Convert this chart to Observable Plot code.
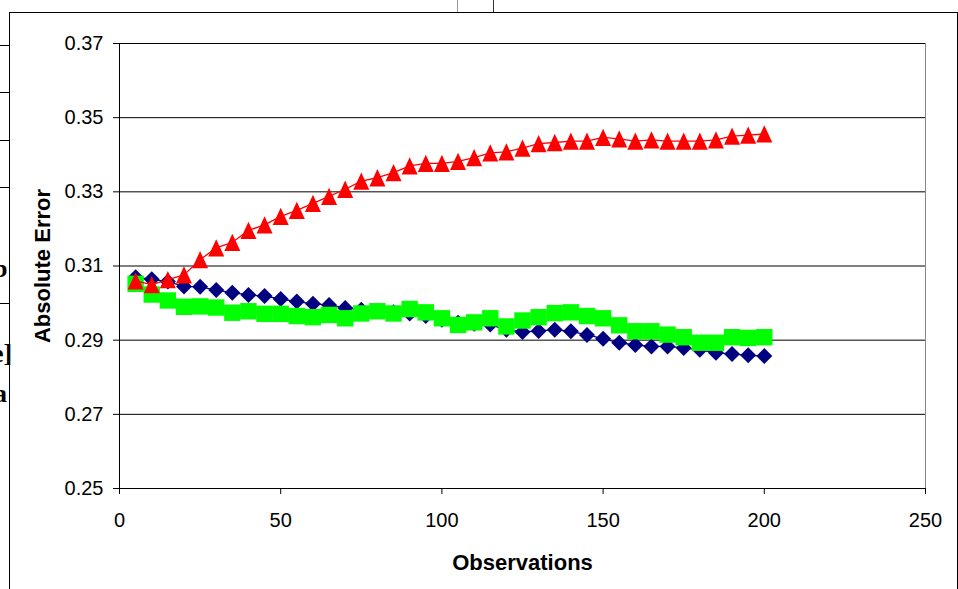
<!DOCTYPE html>
<html>
<head>
<meta charset="utf-8">
<script src="https://cdn.jsdelivr.net/npm/d3@7"></script>
<script src="https://cdn.jsdelivr.net/npm/@observablehq/plot@0.6"></script>
<style>
  html, body { margin: 0; padding: 0; background: #fff; }
  #wrap { position: relative; width: 958px; height: 589px; overflow: hidden; background: #fff; }
  #chart { position: absolute; left: 0; top: 0; }
  .ln { position: absolute; background: #000; }
  .frag { position: absolute; font-family: "Liberation Serif", "DejaVu Serif", serif; font-weight: bold; font-size: 26px; line-height: 1; color: #000; }
</style>
</head>
<body>
<div id="wrap">
  <!-- surrounding page frame and table rules -->
  <div style="position:absolute;left:9px;top:12px;width:947px;height:700px;border:1px solid #000;"></div>
  <div class="ln" style="left:0;top:45px;width:9px;height:1px"></div>
  <div class="ln" style="left:0;top:92px;width:9px;height:1px"></div>
  <div class="ln" style="left:0;top:140px;width:9px;height:1px"></div>
  <div class="ln" style="left:0;top:187px;width:9px;height:1px"></div>
  <div class="ln" style="left:0;top:303px;width:9px;height:1px"></div>
  <div class="ln" style="left:457px;top:0;width:1px;height:12px;background:#999"></div>
  <div class="ln" style="left:493px;top:0;width:1px;height:12px;background:#333"></div>
  <span class="frag" style="left:-7px;top:256px">b</span>
  <span class="frag" style="left:-8px;top:341px">e]</span>
  <span class="frag" style="left:-6px;top:381px">a</span>
  <div id="chart"></div>
</div>
<script>
// Observation counts on the x axis
const observations = [5, 10, 15, 20, 25, 30, 35, 40, 45, 50,
  55, 60, 65, 70, 75, 80, 85, 90, 95, 100,
  105, 110, 115, 120, 125, 130, 135, 140, 145, 150,
  155, 160, 165, 170, 175, 180, 185, 190, 195, 200];

// Absolute error, navy diamonds
const errorDiamond = [0.3070, 0.3064, 0.3058, 0.3045, 0.3044, 0.3035, 0.3028, 0.3022, 0.3019, 0.3011,
  0.3004, 0.2998, 0.2995, 0.2987, 0.2982, 0.2978, 0.2975, 0.2972, 0.2965, 0.2955,
  0.2947, 0.2944, 0.2942, 0.2928, 0.2922, 0.2925, 0.2928, 0.2924, 0.2914, 0.2904,
  0.2893, 0.2887, 0.2883, 0.2883, 0.2879, 0.2874, 0.2866, 0.2863, 0.2859, 0.2857];

// Absolute error, green squares
const errorSquare = [0.3052, 0.3023, 0.3007, 0.2990, 0.2991, 0.2988, 0.2974, 0.2978, 0.2971, 0.2971,
  0.2965, 0.2962, 0.2968, 0.2959, 0.2972, 0.2978, 0.2972, 0.2984, 0.2975, 0.2959,
  0.2941, 0.2948, 0.2959, 0.2937, 0.2953, 0.2962, 0.2973, 0.2975, 0.2965, 0.2959,
  0.2940, 0.2924, 0.2924, 0.2915, 0.2908, 0.2893, 0.2893, 0.2908, 0.2906, 0.2908];

// Absolute error, red triangles
const errorTriangle = [0.3060, 0.3050, 0.3063, 0.3076, 0.3117, 0.3149, 0.3164, 0.3196, 0.3211, 0.3234,
  0.3250, 0.3269, 0.3288, 0.3307, 0.3329, 0.3338, 0.3352, 0.3370, 0.3377, 0.3377,
  0.3382, 0.3392, 0.3405, 0.3408, 0.3418, 0.3430, 0.3433, 0.3437, 0.3437, 0.3447,
  0.3443, 0.3437, 0.3440, 0.3437, 0.3437, 0.3437, 0.3440, 0.3450, 0.3453, 0.3456];

const xTickValues = [0, 50, 100, 150, 200, 250];
const yTickValues = [0.25, 0.27, 0.29, 0.31, 0.33, 0.35, 0.37];

const rows = (ys) => observations.map((x, i) => ({x, y: ys[i]}));

// Marker shapes centred on their bounding box
const diamondMarker = {draw(ctx, size) {
  const r = Math.sqrt(size / Math.PI);
  ctx.moveTo(0, -r); ctx.lineTo(r, 0); ctx.lineTo(0, r); ctx.lineTo(-r, 0); ctx.closePath();
}};
const squareMarker = {draw(ctx, size) {
  const r = Math.sqrt(size / Math.PI);
  ctx.rect(-r, -r, 2 * r, 2 * r);
}};
const triangleMarker = {draw(ctx, size) {
  const r = Math.sqrt(size / Math.PI);
  const h = r * 1.08;
  ctx.moveTo(0, -h); ctx.lineTo(r, h); ctx.lineTo(-r, h); ctx.closePath();
}};

const series = [
  {data: rows(errorDiamond), color: "#000080", symbol: diamondMarker, r: 8},
  {data: rows(errorSquare), color: "#00ff00", symbol: squareMarker, r: 8.2},
  {data: rows(errorTriangle), color: "#ff0000", symbol: triangleMarker, r: 8}
];

const chart = Plot.plot({
  width: 958,
  height: 589,
  marginLeft: 119,
  marginRight: 33,
  marginTop: 43,
  marginBottom: 101,
  style: {fontFamily: "'Liberation Sans', Arial, sans-serif", fontSize: "20px", background: "transparent", color: "#000"},
  x: {domain: [0, 250]},
  y: {domain: [0.25, 0.37]},
  marks: [
    Plot.ruleY(yTickValues, {stroke: "#000", strokeWidth: 1}),
    Plot.ruleX([250], {stroke: "#888", strokeWidth: 1}),
    Plot.ruleX([0], {stroke: "#000", strokeWidth: 1}),
    Plot.axisY({ticks: yTickValues, tickFormat: d3.format(".2f"), tickSize: 6, tickPadding: 10, label: null}),
    Plot.axisX({ticks: xTickValues, tickFormat: d3.format("d"), tickSize: 6, tickPadding: 18, label: null}),
    ...series.flatMap(s => [
      Plot.line(s.data, {x: "x", y: "y", stroke: s.color, strokeWidth: 1.3}),
      Plot.dot(s.data, {x: "x", y: "y", symbol: s.symbol, r: s.r, fill: s.color, stroke: "none"})
    ]),
    Plot.text(["Observations"], {text: d => d, frameAnchor: "bottom", dy: 74, lineAnchor: "middle", fontSize: 22, fontWeight: "bold"}),
    Plot.text(["Absolute Error"], {text: d => d, frameAnchor: "left", dx: -77, rotate: -90, textAnchor: "middle", lineAnchor: "middle", fontSize: 22, fontWeight: "bold"})
  ]
});

document.getElementById("chart").appendChild(chart);
</script>
</body>
</html>
